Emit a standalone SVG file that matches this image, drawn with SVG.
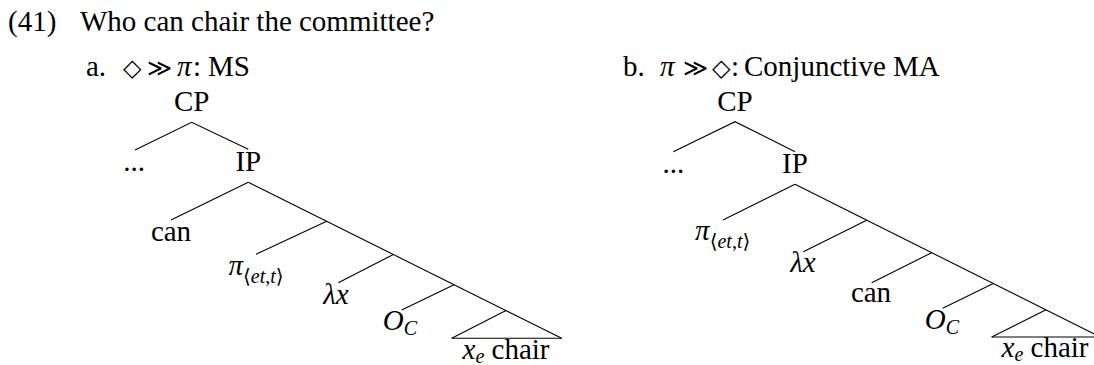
<svg xmlns="http://www.w3.org/2000/svg" width="1094" height="365" viewBox="0 0 1094 365">
<style>
text{font-family:"Liberation Serif","DejaVu Serif",serif;font-size:29px;fill:#000}
.m{text-anchor:middle}
.i{font-style:italic}
.s{font-size:20px}
.sym{font-family:"DejaVu Serif","Liberation Serif",serif;font-size:24px}
#edges line,#edges path{stroke:#000;stroke-width:1.1;fill:none}
</style>
<rect width="1094" height="365" fill="#fff"/>
<g id="title">
<text x="8" y="31">(41)</text>
<text x="80" y="31">Who can chair the committee?</text>
</g>
<g id="head-a">
<text x="86" y="76">a.</text>
<text x="123" y="76" class="sym">◇</text>
<text x="147" y="76" class="sym">≫</text>
<text x="177" y="76" class="i">π</text>
<text x="193" y="76">:</text>
<text x="208" y="76">MS</text>
</g>
<g id="head-b">
<text x="623" y="76">b.</text>
<text x="660" y="76" class="i">π</text>
<text x="683" y="76" class="sym">≫</text>
<text x="712" y="76" class="sym">◇</text>
<text x="731" y="76">:</text>
<text x="744" y="76">Conjunctive MA</text>
</g>
<g id="edges">
<path d="M135,150 L191.7,122.3 L248.3,149.3"/>
<line x1="248.3" y1="182.3" x2="561.7" y2="338.3"/>
<line x1="248.3" y1="182.3" x2="171" y2="220"/>
<line x1="326.7" y1="221.3" x2="256" y2="254.3"/>
<line x1="393.3" y1="254.5" x2="338.3" y2="282.7"/>
<line x1="454" y1="284.7" x2="401.7" y2="310"/>
<line x1="506" y1="310.6" x2="451.7" y2="338.3"/>
<line x1="451.7" y1="338.3" x2="561.7" y2="338.3"/>
<path d="M673.3,151.7 L735,121.7 L795,151.7"/>
<line x1="795" y1="184.3" x2="1100.3" y2="337"/>
<line x1="795" y1="184.3" x2="723" y2="220"/>
<line x1="866.7" y1="220.2" x2="803.3" y2="251.7"/>
<line x1="931.7" y1="252.7" x2="871.7" y2="282.7"/>
<line x1="993.3" y1="283.5" x2="942.7" y2="308.3"/>
<line x1="1046" y1="309.8" x2="991.7" y2="337"/>
<line x1="991.7" y1="337" x2="1100.3" y2="337"/>
</g>
<g id="a-CP"><text class="m" x="191.7" y="111">CP</text></g>
<g id="a-dots"><text class="m" x="134" y="170.7">...</text></g>
<g id="a-IP"><text class="m" x="248.3" y="170.7">IP</text></g>
<g id="a-can"><text class="m" x="171" y="240.7">can</text></g>
<g id="a-pi"><text class="m" x="256" y="275"><tspan class="i">π</tspan><tspan class="s" dy="8">⟨<tspan class="i">et</tspan>,<tspan class="i">t</tspan>⟩</tspan></text></g>
<g id="a-lambda"><text class="m i" x="336" y="304">λx</text></g>
<g id="a-OC"><text class="m" x="400" y="330"><tspan class="i">O</tspan><tspan class="s i" dy="5">C</tspan></text></g>
<g id="a-xchair"><text class="m" x="506" y="359"><tspan class="i">x</tspan><tspan class="s i" dy="4">e</tspan><tspan dy="-4"> chair</tspan></text></g>
<g id="b-CP"><text class="m" x="735" y="111">CP</text></g>
<g id="b-dots"><text class="m" x="673.3" y="172.7">...</text></g>
<g id="b-IP"><text class="m" x="795" y="172.7">IP</text></g>
<g id="b-pi"><text class="m" x="722.7" y="239.5"><tspan class="i">π</tspan><tspan class="s" dy="8">⟨<tspan class="i">et</tspan>,<tspan class="i">t</tspan>⟩</tspan></text></g>
<g id="b-lambda"><text class="m i" x="803" y="271.7">λx</text></g>
<g id="b-can"><text class="m" x="871" y="302">can</text></g>
<g id="b-OC"><text class="m" x="942" y="328.5"><tspan class="i">O</tspan><tspan class="s i" dy="5">C</tspan></text></g>
<g id="b-xchair"><text class="m" x="1045" y="357.3"><tspan class="i">x</tspan><tspan class="s i" dy="4">e</tspan><tspan dy="-4"> chair</tspan></text></g>
</svg>
